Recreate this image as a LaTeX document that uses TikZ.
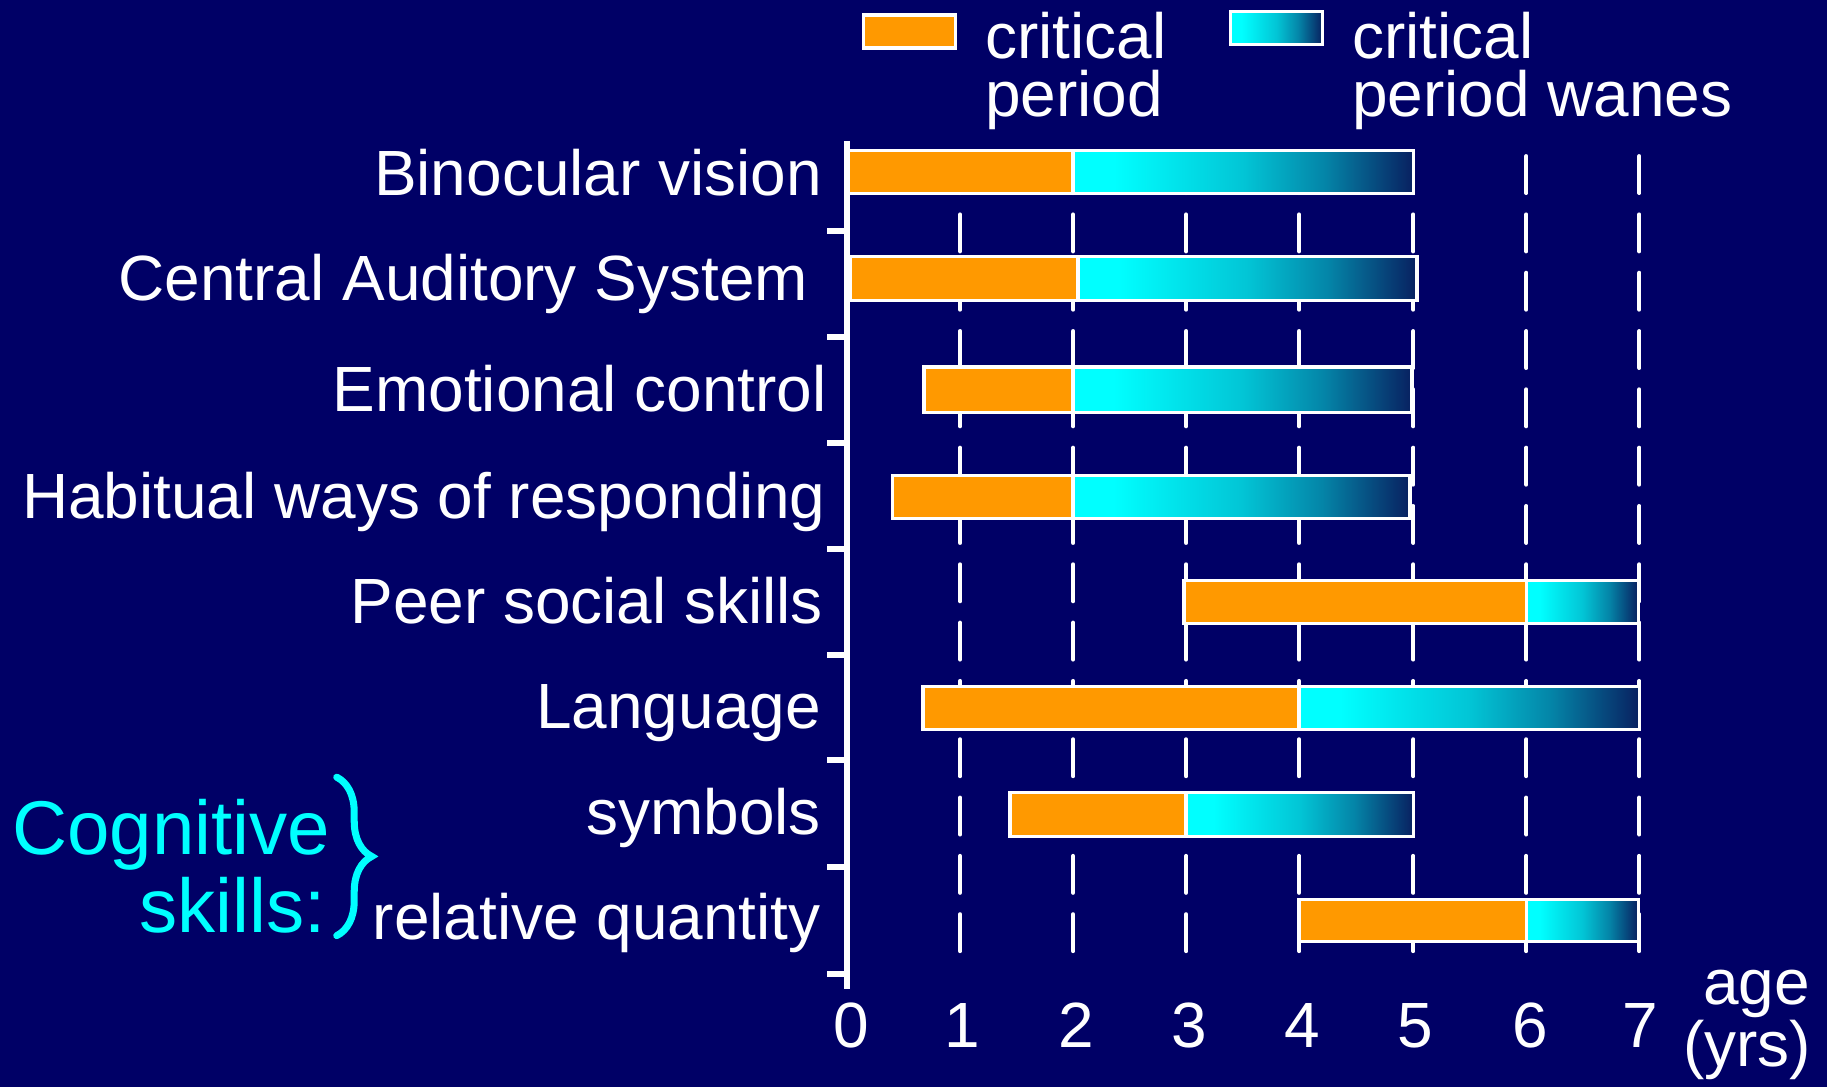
\documentclass[tikz,border=0pt]{standalone}
\usepackage{fontspec}
\setmainfont{Liberation Sans}
\usetikzlibrary{decorations.pathreplacing}
\definecolor{bg}{RGB}{0,0,102}
\definecolor{barorange}{RGB}{255,153,0}
\definecolor{wanecyan}{RGB}{0,255,255}
\definecolor{waneend}{RGB}{8,32,96}
\colorlet{wanemida}{wanecyan!74!waneend}
\colorlet{wanemidb}{wanecyan!45!waneend}
\pgfdeclarehorizontalshading{wanes}{100bp}{color(0bp)=(wanecyan); color(25bp)=(wanecyan); color(31bp)=(wanecyan); color(50bp)=(wanemida); color(62bp)=(wanemidb); color(75bp)=(waneend); color(100bp)=(waneend)}
\begin{document}
\begin{tikzpicture}[x=0.011652cm, y=-0.011652cm,
  lbl/.style={text=white, font=\fontsize{18.2}{18}\selectfont, inner sep=0pt},
  coglbl/.style={text=wanecyan, font=\fontsize{21.7}{22}\selectfont, inner sep=0pt},
  critbox/.style={fill=barorange, draw=white, line width=1pt},
  wanebox/.style={shade, shading=wanes, draw=white, line width=1pt},
  agegrid/.style={draw=white, line width=1.16pt, line cap=round, dash pattern=on 10.5pt off 6.1pt},
  axisline/.style={draw=white, line width=1.66pt},
  tickmark/.style={draw=white, line width=1.66pt}
]
% background
\fill[bg] (0,0) rectangle (1568,933);
\useasboundingbox (0,0) rectangle (1568,933);

% dashed age lines
\foreach \xx in {824,921,1018,1115,1213,1310,1407}
  \draw[agegrid] (\xx,134) -- (\xx,822);

% axis
\coordinate (axtop) at (727,121);
\coordinate (axbot) at (727,849);
\draw[axisline] (axtop) -- (axbot);
\foreach \yy in {198,289,380,471,562,652,744,836}
  \draw[tickmark] (710,\yy) -- (727,\yy);

% bars: y-top, y-bottom, x-start, x-mid, x-end
\foreach \yt/\yb/\xa/\xb/\xc in {
  129/166/728/921/1213,
  220/258/730/925/1216,
  315/354/793/921/1212,
  408/445/766/921/1210,
  498/535/1016/1310/1406,
  589/626/792/1115/1407,
  680/718/867/1018/1213,
  772/808/1115/1310/1406}{
  \draw[critbox] (\xa,\yt) rectangle (\xb,\yb);
  \draw[wanebox] (\xb,\yt) rectangle (\xc,\yb);
}

% row labels
\node[lbl, anchor=base east] (binoc) at (706,168) {Binocular vision};
\node[lbl, anchor=base east] (audit) at (694,258) {Central Auditory System};
\node[lbl, anchor=base east] (emot) at (710,353) {Emotional control};
\node[lbl, anchor=base east] (habit) at (709,445) {Habitual ways of responding};
\node[lbl, anchor=base east] (peer) at (707,535) {Peer social skills};
\node[lbl, anchor=base east] (lang) at (705,625) {Language};
\node[lbl, anchor=base east] (symb) at (705,716) {symbols};
\node[lbl, anchor=base east] (relq) at (705,806) {relative quantity};

% cognitive skills
\node[coglbl, anchor=base east] (cog1) at (284,733) {Cognitive};
\node[coglbl, anchor=base east] (cog2) at (280,800) {skills:};
\coordinate (brtop) at (289,667);
\coordinate (brbot) at (289,803);
\draw[wanecyan, line width=2pt, line cap=round, decorate, decoration={brace, amplitude=0.35cm}] (brtop) -- (brbot);

% x-axis numbers
\foreach \xx/\nn in {731/0,826/1,924/2,1021/3,1118/4,1215/5,1313/6,1408/7}
  \node[lbl, anchor=base] (num\nn) at (\xx,899) {\nn};
\node[lbl, anchor=base east] (age1) at (1554,862) {age};
\node[lbl, anchor=base east] (age2) at (1555,915) {(yrs)};

% legend
\draw[critbox] (741,13) rectangle (820,41);
\node[lbl, anchor=base west] (leg1a) at (845,50) {critical};
\node[lbl, anchor=base west] (leg1b) at (845,100) {period};
\draw[wanebox] (1056,10) rectangle (1135,38);
\node[lbl, anchor=base west] (leg2a) at (1160,50) {critical};
\node[lbl, anchor=base west] (leg2b) at (1160,100) {period wanes};
\end{tikzpicture}
\end{document}
